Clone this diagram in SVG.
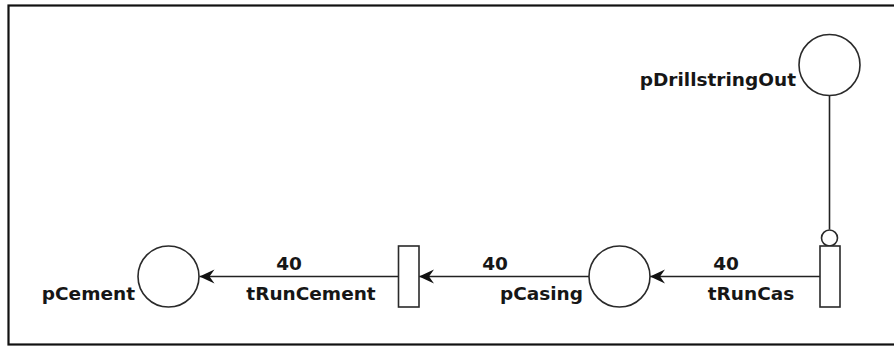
<svg xmlns="http://www.w3.org/2000/svg" width="894" height="347" viewBox="0 0 894 347">
  <style>
    .frame { fill: none; stroke: #111; stroke-width: 2.2; }
    .place { fill: #fff; stroke: #2a2a2a; stroke-width: 1.6; }
    .trans { fill: #fff; stroke: #2a2a2a; stroke-width: 1.6; }
    .arc { fill: none; stroke: #222; stroke-width: 1.6; }
    .lbl { font-family: "DejaVu Sans", "Liberation Sans", sans-serif; font-weight: bold; font-size: 18.5px; fill: #161616; }
    .end { text-anchor: end; }
    .mid { text-anchor: middle; }
  </style>
  <defs>
    <marker id="head" viewBox="-16 -8 17 16" refX="0" refY="0" markerWidth="17" markerHeight="16" markerUnits="userSpaceOnUse" orient="auto">
      <path d="M0,0 L-15,-7 L-10,0 L-15,7 Z" fill="#111"/>
    </marker>
  </defs>

  <!-- outer frame (right side runs off the page) -->
  <rect class="frame" x="8.5" y="5.5" width="900" height="339"/>

  <!-- connectors -->
  <g id="arcs">
    <path class="arc" d="M398.5,276.5 H199.5" marker-end="url(#head)"/>
    <path class="arc" d="M589,276.5 H419" marker-end="url(#head)"/>
    <path class="arc" d="M820,276.5 H650" marker-end="url(#head)"/>
    <!-- inhibitor arc from pDrillstringOut to tRunCas -->
    <path class="arc" d="M829.5,95.5 V229.5"/>
    <circle class="place" cx="829.5" cy="238" r="8"/>
    <text class="lbl mid" x="289" y="270">40</text>
    <text class="lbl mid" x="495" y="270">40</text>
    <text class="lbl mid" x="726" y="270">40</text>
  </g>

  <g id="pCement">
    <circle class="place" cx="168.5" cy="276.5" r="30.5"/>
    <text class="lbl end" x="135" y="300">pCement</text>
  </g>

  <g id="tRunCement">
    <rect class="trans" x="398.5" y="246" width="20.5" height="61"/>
    <text class="lbl mid" x="311" y="300">tRunCement</text>
  </g>

  <g id="pCasing">
    <circle class="place" cx="619.5" cy="276.5" r="30.5"/>
    <text class="lbl end" x="583" y="300">pCasing</text>
  </g>

  <g id="tRunCas">
    <rect class="trans" x="820" y="246" width="20" height="61"/>
    <text class="lbl mid" x="751" y="300">tRunCas</text>
  </g>

  <g id="pDrillstringOut">
    <circle class="place" cx="829.5" cy="65" r="30.5"/>
    <text class="lbl end" x="796" y="86">pDrillstringOut</text>
  </g>
</svg>
